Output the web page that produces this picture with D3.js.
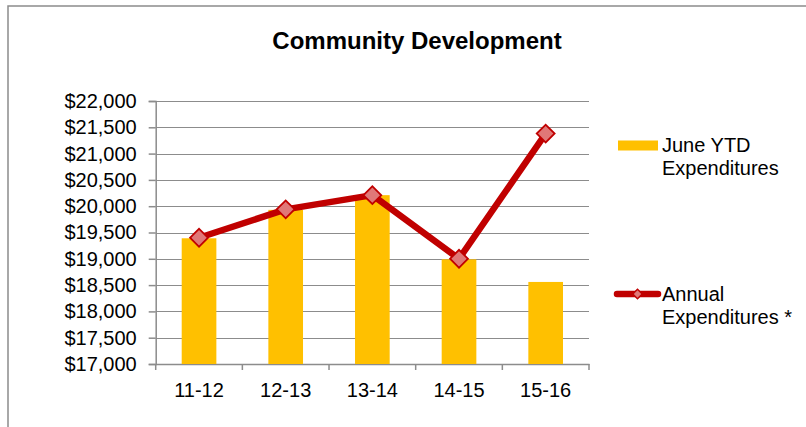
<!DOCTYPE html>
<html>
<head>
<meta charset="utf-8">
<script src="https://cdn.jsdelivr.net/npm/d3@7"></script>
<style>
  html, body { margin: 0; padding: 0; background: #fff; }
  svg { display: block; font-family: "Liberation Sans", Arial, sans-serif; }
</style>
</head>
<body>
<svg id="chart" width="806" height="427"></svg>
<script>
// Fiscal years and spending figures
const years = ["11-12", "12-13", "13-14", "14-15", "15-16"];
const juneYTD = [19390, 19930, 20210, 18990, 18560];
const annual = [19400, 19940, 20210, 19000, 21380];
const yTicks = [17000, 17500, 18000, 18500, 19000, 19500, 20000, 20500, 21000, 21500, 22000];
const seriesNames = [["June YTD", "Expenditures"], ["Annual", "Expenditures *"]];

const svg = d3.select("#chart");
const barColor = "#FFC000";
const lineColor = "#C00000";
const markerFill = "#E07878";
const gridColor = "#8C8C8C";

// Outer chart frame (left and top edges show inside the window)
svg.append("path")
  .attr("d", "M8,427 V6 H806")
  .attr("fill", "none")
  .attr("stroke", gridColor)
  .attr("stroke-width", 1.5);

// Title
svg.append("text")
  .attr("x", 417).attr("y", 49)
  .attr("text-anchor", "middle")
  .attr("font-size", 24)
  .attr("font-weight", "bold")
  .text("Community Development");

const plot = { left: 155.7, right: 589, top: 101, bottom: 364 };

const x = d3.scaleBand()
  .domain(years)
  .range([plot.left, plot.right])
  .paddingInner(0.6)
  .paddingOuter(0.3);

const xCenter = d => x(d) + x.bandwidth() / 2;

const y = d3.scaleLinear()
  .domain([17000, 22000])
  .range([plot.bottom, plot.top]);

// Horizontal gridlines
svg.append("g")
  .selectAll("line")
  .data(yTicks)
  .join("line")
  .attr("x1", plot.left).attr("x2", plot.right)
  .attr("y1", d => Math.round(y(d)) + 0.5)
  .attr("y2", d => Math.round(y(d)) + 0.5)
  .attr("stroke", gridColor)
  .attr("stroke-width", 1.2);

// Y axis
const yAxis = d3.axisLeft(y)
  .tickValues(yTicks)
  .tickSize(7)
  .tickPadding(12)
  .tickFormat(d => "$" + d3.format(",")(d));

const gy = svg.append("g")
  .attr("transform", `translate(${plot.left},0)`)
  .call(yAxis);
gy.selectAll("line, path").attr("stroke", gridColor).attr("stroke-width", 1.5);
gy.selectAll("text").attr("font-size", 20).attr("fill", "#000")
  .attr("font-family", "'Liberation Sans', Arial, sans-serif");

// X axis: ticks sit on category boundaries
const step = (plot.right - plot.left) / years.length;
const gx = svg.append("g")
  .attr("transform", `translate(0,${plot.bottom})`)
  .call(d3.axisBottom(x).tickSize(0).tickPadding(19));
gx.select(".domain").attr("stroke", gridColor).attr("stroke-width", 1.5);
gx.selectAll("text").attr("font-size", 20).attr("fill", "#000")
  .attr("font-family", "'Liberation Sans', Arial, sans-serif");
gx.selectAll("line.boundary")
  .data(d3.range(years.length + 1))
  .join("line")
  .attr("class", "boundary")
  .attr("x1", i => plot.left + i * step)
  .attr("x2", i => plot.left + i * step)
  .attr("y1", 0).attr("y2", 6)
  .attr("stroke", gridColor)
  .attr("stroke-width", 1.5);

// Bars: June YTD
svg.append("g")
  .selectAll("rect")
  .data(juneYTD)
  .join("rect")
  .attr("x", (d, i) => x(years[i]))
  .attr("width", x.bandwidth())
  .attr("y", d => y(d))
  .attr("height", d => y(17000) - y(d))
  .attr("fill", barColor);

// Line: annual expenditures with diamond markers
const line = d3.line()
  .x((d, i) => xCenter(years[i]))
  .y(d => y(d));

svg.append("path")
  .datum(annual)
  .attr("d", line)
  .attr("fill", "none")
  .attr("stroke", lineColor)
  .attr("stroke-width", 6.5)
  .attr("stroke-linejoin", "round");

svg.append("g")
  .selectAll("path")
  .data(annual)
  .join("path")
  .attr("d", d3.symbol().type(d3.symbolSquare).size(160))
  .attr("transform", (d, i) => `translate(${xCenter(years[i])},${y(d)}) rotate(45)`)
  .attr("fill", markerFill)
  .attr("stroke", lineColor)
  .attr("stroke-width", 1.8);

// Legend
const legend = svg.append("g");

legend.append("rect")
  .attr("x", 618).attr("y", 140.5)
  .attr("width", 40).attr("height", 10)
  .attr("fill", barColor);

legend.append("line")
  .attr("x1", 617).attr("x2", 658)
  .attr("y1", 294).attr("y2", 294)
  .attr("stroke", lineColor)
  .attr("stroke-width", 6.5)
  .attr("stroke-linecap", "round");

legend.append("path")
  .attr("d", d3.symbol().type(d3.symbolSquare).size(45))
  .attr("transform", "translate(637.5,294) rotate(45)")
  .attr("fill", markerFill)
  .attr("stroke", lineColor)
  .attr("stroke-width", 1.5);

const legendY = [151.5, 300.5];
seriesNames.forEach((lines, k) => {
  const t = legend.append("text")
    .attr("x", 662).attr("y", legendY[k])
    .attr("font-size", 20)
    .attr("fill", "#000");
  lines.forEach((s, j) => {
    t.append("tspan")
      .attr("x", 662)
      .attr("dy", j === 0 ? 0 : 23.4)
      .text(s);
  });
});
</script>
</body>
</html>
